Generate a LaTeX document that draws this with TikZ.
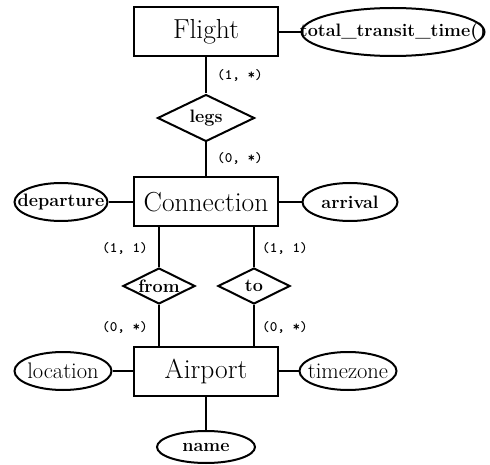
\documentclass[tikz,border=0pt]{standalone}
\usepackage{tikz}
\usetikzlibrary{shapes.geometric}

\newcommand{\zbox}[1]{\makebox[0pt]{#1}}

\tikzset{
  entity/.style={rectangle, draw, minimum width=144pt, minimum height=49pt, inner sep=0pt, font=\fontsize{27.5}{30}\selectfont},
  attrib/.style={ellipse, draw, inner sep=0pt, minimum height=38pt, font=\fontsize{18}{20}\selectfont\bfseries},
  relship/.style={diamond, draw, inner sep=0pt, font=\fontsize{18}{20}\selectfont\bfseries},
  card/.style={inner sep=0pt, font=\fontsize{14.5}{16}\selectfont\ttfamily\bfseries},
}

\begin{document}
\begin{tikzpicture}[x=1pt, y=-1pt, line width=2pt]
            \useasboundingbox (0,0) rectangle (490,465);
            % entities
            \node[entity](flight) at (206,32) {Flight};
            \node[entity](conn) at (206,202) {Connection};
            \node[entity](airport) at (206,371) {Airport};
            % relationships
            \node[relship, minimum width=97pt, minimum height=47pt](legs) at (206,118) {\zbox{legs}};
            \node[relship, minimum width=72pt, minimum height=36pt](from) at (159,286) {\zbox{from}};
            \node[relship, minimum width=72pt, minimum height=36pt](to) at (254,286) {\zbox{to}};
            % attributes
            \node[attrib, minimum width=183pt, minimum height=48pt](ttt) at (393,32) {\zbox{total\_transit\_time()}};
            \node[attrib, minimum width=93pt](dep) at (61,202) {\zbox{departure}};
            \node[attrib, minimum width=95pt](arr) at (350,202) {\zbox{arrival}};
            \node[attrib, minimum width=97pt, font=\fontsize{22.5}{24}\selectfont](loc) at (63,371) {\zbox{location}};
            \node[attrib, minimum width=97pt, font=\fontsize{22.5}{24}\selectfont](tz) at (348,371) {\zbox{timezone}};
            \node[attrib, minimum width=98pt, minimum height=32pt](name) at (206,447) {\zbox{name}};
            % cardinalities
            \node[card](c1) at (240,75) {(1, *)};
            \node[card](c2) at (240,158) {(0, *)};
            \node[card](c3) at (125,248) {(1, 1)};
            \node[card](c4) at (285,248) {(1, 1)};
            \node[card](c5) at (125,327) {(0, *)};
            \node[card](c6) at (285,327) {(0, *)};
            \draw (flight) -- (ttt);
            \draw (flight) -- (legs);
            \draw (legs) -- (conn);
            \draw (dep) -- (conn);
            \draw (conn) -- (arr);
            \draw (from.north) -- (from.north |- conn.south);
            \draw (from.south) -- (from.south |- airport.north);
            \draw (to.north) -- (to.north |- conn.south);
            \draw (to.south) -- (to.south |- airport.north);
            \draw (loc) -- (airport);
            \draw (airport) -- (tz);
            \draw (airport) -- (name);
        \end{tikzpicture}
\end{document}
